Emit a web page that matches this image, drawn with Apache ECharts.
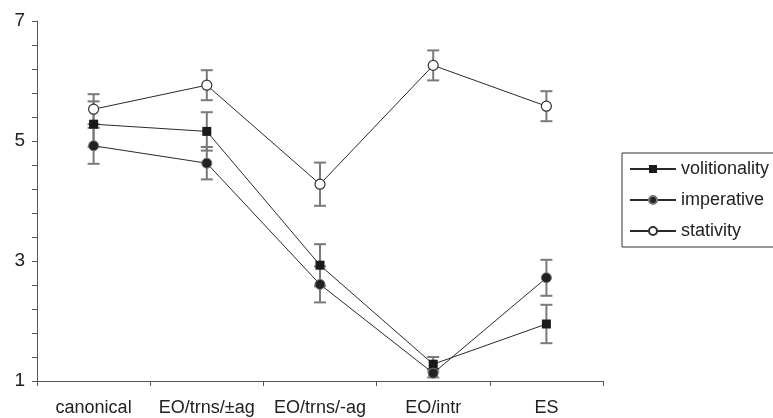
<!DOCTYPE html>
<html>
<head>
<meta charset="utf-8">
<script src="https://cdn.jsdelivr.net/npm/echarts@6/dist/echarts.min.js"></script>
<style>
html,body{margin:0;padding:0;background:#fff;}
#chart{width:773px;height:418px;}
</style>
</head>
<body>
<div id="chart"></div>
<script>
const categories = ['canonical', 'EO/trns/±ag', 'EO/trns/-ag', 'EO/intr', 'ES'];
const volitionality = [5.28, 5.16, 2.93, 1.28, 1.95];
const volitionalityErr = [0.38, 0.32, 0.35, 0.12, 0.32];
const imperative = [4.92, 4.63, 2.61, 1.13, 2.72];
const imperativeErr = [0.30, 0.27, 0.30, 0.07, 0.30];
const stativity = [5.53, 5.93, 4.28, 6.26, 5.58];
const stativityErr = [0.25, 0.25, 0.36, 0.25, 0.25];
const yMin = 1, yMax = 7, yStep = 2;

// axis is drawn from 0 so that ticks fall on min; labels add yMin back
const shift = v => v - yMin;

function errSeries(name, vals, errs) {
  return {
    name: name + ' err',
    type: 'custom',
    z: 1,
    silent: true,
    data: vals.map((v, i) => [i, shift(v), errs[i]]),
    renderItem: function (params, api) {
      const x = api.value(0), y = api.value(1), e = api.value(2);
      const top = api.coord([x, y + e]);
      const bot = api.coord([x, y - e]);
      const w = 6;
      const st = { stroke: '#7a7a7a', lineWidth: 2 };
      return {
        type: 'group',
        children: [
          { type: 'line', shape: { x1: top[0], y1: top[1], x2: bot[0], y2: bot[1] }, style: st },
          { type: 'line', shape: { x1: top[0] - w, y1: top[1], x2: top[0] + w, y2: top[1] }, style: st },
          { type: 'line', shape: { x1: bot[0] - w, y1: bot[1], x2: bot[0] + w, y2: bot[1] }, style: st }
        ]
      };
    }
  };
}

function lineSeries(name, vals, symbol, size, itemStyle) {
  return {
    name: name,
    type: 'line',
    z: 3,
    data: vals.map(shift),
    symbol: symbol,
    symbolSize: size,
    showAllSymbol: true,
    lineStyle: { color: '#2a2a2a', width: 1 },
    itemStyle: itemStyle
  };
}

const chart = echarts.init(document.getElementById('chart'), null, { renderer: 'canvas' });
chart.setOption({
  animation: false,
  backgroundColor: '#ffffff',
  textStyle: { fontFamily: 'Liberation Sans, Arial, sans-serif' },
  grid: { left: 37, right: 170, top: 21, bottom: 37, containLabel: false },
  legend: {
    data: ['volitionality', 'imperative', 'stativity'],
    orient: 'vertical',
    left: 622,
    top: 153,
    itemWidth: 46,
    itemHeight: 10,
    itemGap: 13,
    padding: [7, 30, 7, 7],
    borderColor: '#333',
    borderWidth: 1,
    textStyle: { fontSize: 18, color: '#222', fontFamily: 'Liberation Sans, Arial, sans-serif' }
  },
  xAxis: {
    type: 'category',
    data: categories,
    boundaryGap: true,
    axisLine: { lineStyle: { color: '#555', width: 1 } },
    axisTick: { show: true, length: 5, lineStyle: { color: '#555' } },
    axisLabel: { fontSize: 18, color: '#222', margin: 18, interval: 0 },
    splitLine: { show: false }
  },
  yAxis: {
    type: 'value',
    min: shift(yMin),
    max: shift(yMax),
    interval: yStep,
    axisLine: { show: true, lineStyle: { color: '#555', width: 1 } },
    axisTick: { show: true, length: 5, lineStyle: { color: '#555' } },
    minorTick: { show: true, splitNumber: 5, length: 5, lineStyle: { color: '#555' } },
    axisLabel: { fontSize: 19, color: '#222', margin: 12, formatter: v => String(v + yMin) },
    splitLine: { show: false }
  },
  series: [
    errSeries('volitionality', volitionality, volitionalityErr),
    errSeries('imperative', imperative, imperativeErr),
    errSeries('stativity', stativity, stativityErr),
    lineSeries('volitionality', volitionality, 'rect', 9, { color: '#1a1a1a', borderColor: '#1a1a1a', borderWidth: 0 }),
    lineSeries('imperative', imperative, 'circle', 10, { color: '#222', borderColor: '#777', borderWidth: 1 }),
    lineSeries('stativity', stativity, 'circle', 10, { color: '#ffffff', borderColor: '#333', borderWidth: 1.2 })
  ]
});
</script>
</body>
</html>
